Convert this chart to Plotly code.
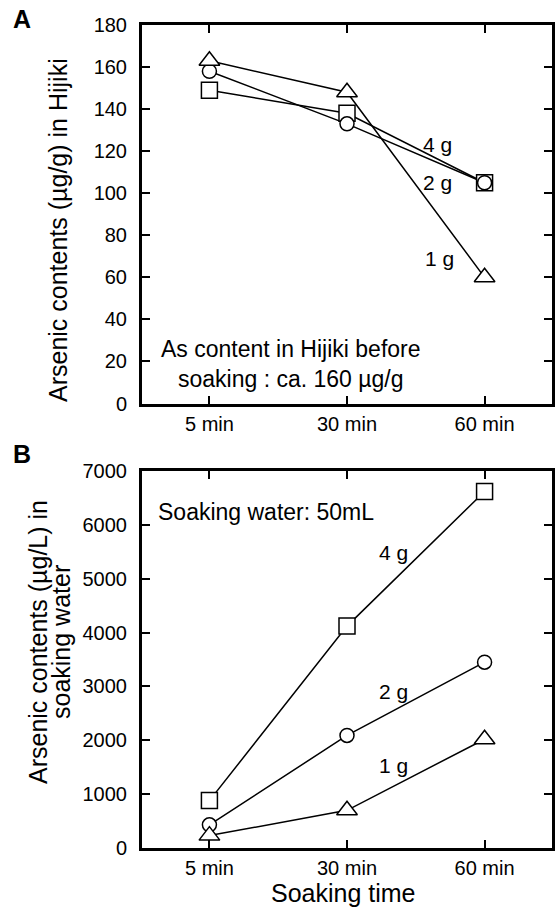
import plotly.graph_objects as go

# ---- data ----
times = ["5 min", "30 min", "60 min"]

# Panel A: arsenic in Hijiki (µg/g)
hijiki_1g = [163, 148, 60]
hijiki_2g = [158, 133, 105]
hijiki_4g = [149, 138, 105]

# Panel B: arsenic in soaking water (µg/L)
water_1g = [230, 700, 2020]
water_2g = [430, 2090, 3450]
water_4g = [880, 4120, 6620]

yA_ticks = [0, 20, 40, 60, 80, 100, 120, 140, 160, 180]
yB_ticks = [0, 1000, 2000, 3000, 4000, 5000, 6000, 7000]

W, H = 558, 909
FONT = "Liberation Sans, Arial, Helvetica, sans-serif"


def px(x):
    return min(max(x / W, 0.0), 1.0)


def py(y):
    return min(max(1 - y / H, 0.0), 1.0)


fig = go.Figure()

series = [
    ("4 g", "square", 16, hijiki_4g, water_4g),
    ("2 g", "circle", 14, hijiki_2g, water_2g),
    ("1 g", "triangle-up", 18, hijiki_1g, water_1g),
]

# lines first
for name, sym, sz, a, b in series:
    fig.add_trace(go.Scatter(x=times, y=a, mode="lines", line=dict(color="black", width=1.5),
                             xaxis="x", yaxis="y", showlegend=False, hoverinfo="skip"))
    fig.add_trace(go.Scatter(x=times, y=b, mode="lines", line=dict(color="black", width=1.5),
                             xaxis="x2", yaxis="y2", showlegend=False, hoverinfo="skip"))
# markers on top
for name, sym, sz, a, b in series:
    mk = dict(symbol=sym, size=sz, color="white", line=dict(color="black", width=1.5))
    fig.add_trace(go.Scatter(x=times, y=a, mode="markers", marker=mk, name=name,
                             xaxis="x", yaxis="y", showlegend=False))
    fig.add_trace(go.Scatter(x=times, y=b, mode="markers", marker=mk, name=name,
                             xaxis="x2", yaxis="y2", showlegend=False))

xdom = [px(142), px(552)]
axis_common = dict(showline=True, linewidth=3, linecolor="black", mirror="ticks",
                   ticks="inside", ticklen=8, tickwidth=1.5, tickcolor="black",
                   showgrid=False, zeroline=False, automargin=False,
                   tickfont=dict(family=FONT, size=20, color="black"))

fig.update_layout(
    width=W, height=H,
    margin=dict(l=0, r=0, t=0, b=0, autoexpand=False),
    paper_bgcolor="white", plot_bgcolor="white",
    font=dict(family=FONT, color="black"),
    xaxis=dict(domain=xdom, anchor="y", type="category", categoryorder="array",
               categoryarray=times, range=[-0.49, 2.49], ticklabelstandoff=0, **axis_common),
    yaxis=dict(domain=[py(403.5), py(25)], anchor="x", range=[0, 180], tickvals=yA_ticks,
               ticklabelstandoff=8, **axis_common),
    xaxis2=dict(domain=xdom, anchor="y2", type="category", categoryorder="array",
                categoryarray=times, range=[-0.49, 2.49], ticklabelstandoff=0, **axis_common),
    yaxis2=dict(domain=[py(848), py(471)], anchor="x2", range=[0, 7000], tickvals=yB_ticks,
                ticklabelstandoff=8, **axis_common),
)

ann = []
# panel letters
ann.append(dict(text="<b>A</b>", x=px(22), y=py(19), xref="paper", yref="paper",
                showarrow=False, font=dict(size=25), xanchor="center", yanchor="middle"))
ann.append(dict(text="<b>B</b>", x=px(22), y=py(454), xref="paper", yref="paper",
                showarrow=False, font=dict(size=25), xanchor="center", yanchor="middle"))
# y titles
ann.append(dict(text="Arsenic contents (µg/g) in Hijiki", x=px(58), y=py(230),
                xref="paper", yref="paper", showarrow=False, textangle=-90,
                font=dict(size=25), xanchor="center", yanchor="middle"))
ann.append(dict(text="Arsenic contents (µg/L) in", x=px(38), y=py(642),
                xref="paper", yref="paper", showarrow=False, textangle=-90,
                font=dict(size=25), xanchor="center", yanchor="middle"))
ann.append(dict(text="soaking water", x=px(61), y=py(642),
                xref="paper", yref="paper", showarrow=False, textangle=-90,
                font=dict(size=25), xanchor="center", yanchor="middle"))
# x title
ann.append(dict(text="Soaking time", x=px(343), y=py(893), xref="paper", yref="paper",
                showarrow=False, font=dict(size=25), xanchor="center", yanchor="middle"))
# in-plot notes
ann.append(dict(text="As content in Hijiki before<br>soaking : ca. 160 µg/g", x=0.59, y=18.8,
                xref="x", yref="y", showarrow=False, font=dict(size=23), align="center"))
ann.append(dict(text="Soaking water: 50mL", x=0.41, y=6238, xref="x2", yref="y2",
                showarrow=False, font=dict(size=23)))
# series labels
for txt, x, y in [("4 g", 1.66, 123), ("2 g", 1.66, 105), ("1 g", 1.67, 69)]:
    ann.append(dict(text=txt, x=x, y=y, xref="x", yref="y", showarrow=False, font=dict(size=21)))
for txt, x, y in [("4 g", 1.34, 5493), ("2 g", 1.34, 2905), ("1 g", 1.34, 1527)]:
    ann.append(dict(text=txt, x=x, y=y, xref="x2", yref="y2", showarrow=False, font=dict(size=21)))

fig.update_layout(annotations=ann)

fig.write_html(
    "out.html",
    config={"displayModeBar": False},
    post_script="document.body.style.margin='0';document.body.style.overflow='hidden';",
)
